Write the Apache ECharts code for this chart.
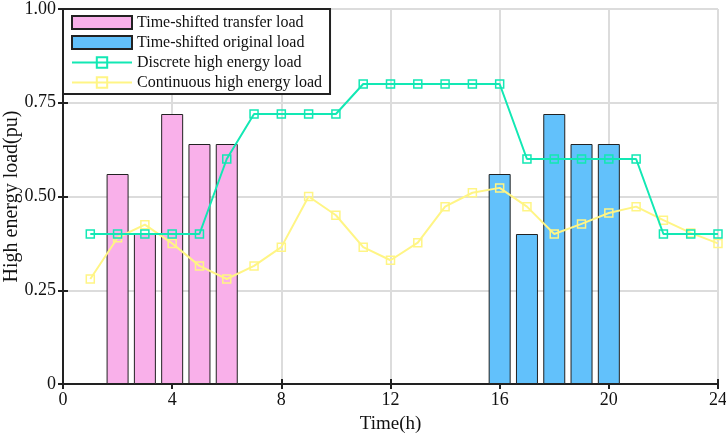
<!DOCTYPE html>
<html>
<head>
<meta charset="utf-8">
<script src="https://cdn.jsdelivr.net/npm/echarts@6/dist/echarts.min.js"></script>
<style>
  html, body { margin: 0; padding: 0; background: #fff; }
  #main { width: 726px; height: 436px; }
</style>
</head>
<body>
<div id="main"></div>
<script>
// hours 1..24
const hours = [1, 2, 3, 4, 5, 6, 7, 8, 9, 10, 11, 12, 13, 14, 15, 16, 17, 18, 19, 20, 21, 22, 23, 24];
// bars
const transferHours = [2, 3, 4, 5, 6];
const transferLoad = [0.56, 0.40, 0.72, 0.64, 0.64];
const originalHours = [16, 17, 18, 19, 20];
const originalLoad = [0.56, 0.40, 0.72, 0.64, 0.64];
// lines
const discreteLoad = [0.40, 0.40, 0.40, 0.40, 0.40, 0.60, 0.72, 0.72, 0.72, 0.72, 0.80, 0.80,
  0.80, 0.80, 0.80, 0.80, 0.60, 0.60, 0.60, 0.60, 0.60, 0.40, 0.40, 0.40];
const continuousLoad = [0.28, 0.39, 0.425, 0.375, 0.315, 0.28, 0.315, 0.365, 0.50, 0.45, 0.365, 0.33,
  0.377, 0.473, 0.51, 0.523, 0.473, 0.40, 0.427, 0.456, 0.473, 0.437, 0.403, 0.375];
// ticks
const xTickLabels = ['0', '4', '8', '12', '16', '20', '24'];
const yTickLabels = ['0', '0.25', '0.50', '0.75', '1.00'];

const font = 'Liberation Serif';
const pair = (xs, ys) => xs.map((x, i) => [x, ys[i]]);

const chart = echarts.init(document.getElementById('main'));

const boxAxis = {
  axisLine: { show: true, lineStyle: { color: '#222', width: 2 } },
  axisTick: { show: true, inside: true, length: 5, lineStyle: { color: '#222', width: 2 } },
};

chart.setOption({
  animation: false,
  grid: { left: 63, right: 8, top: 9, bottom: 52, outerBoundsMode: 'none', containLabel: false },
  legend: {
    orient: 'vertical',
    left: 63,
    top: 9,
    padding: [5, 8, 3, 8],
    itemWidth: 60,
    itemHeight: 13,
    itemGap: 3,
    borderColor: '#222',
    borderWidth: 2,
    backgroundColor: '#fff',
    textStyle: { fontFamily: font, fontSize: 16, color: '#111', lineHeight: 17 },
    data: [
      { name: 'Time-shifted transfer load', icon: 'rect' },
      { name: 'Time-shifted original load', icon: 'rect' },
      { name: 'Discrete high energy load' },
      { name: 'Continuous high energy load' },
    ],
  },
  xAxis: [
    Object.assign({
      type: 'value', min: 0, max: 24, interval: 4,
      name: 'Time(h)', nameLocation: 'middle', nameGap: 31, nameMoveOverlap: false,
      nameTextStyle: { fontFamily: font, fontSize: 19, color: '#111' },
      axisLabel: {
        fontFamily: font, fontSize: 18, color: '#111', margin: 7,
        formatter: (v, i) => xTickLabels[i],
      },
      splitLine: { show: true, lineStyle: { color: '#dcdcdc', width: 2 } },
    }, boxAxis),
    Object.assign({
      type: 'value', min: 0, max: 24, interval: 4, position: 'top',
      axisLabel: { show: false }, splitLine: { show: false },
    }, boxAxis),
  ],
  yAxis: [
    Object.assign({
      type: 'value', min: 0, max: 1, interval: 0.25,
      name: 'High energy load(pu)', nameLocation: 'middle', nameGap: 41, nameMoveOverlap: false,
      nameTextStyle: { fontFamily: font, fontSize: 20, color: '#111' },
      axisLabel: {
        fontFamily: font, fontSize: 18, color: '#111', margin: 7,
        formatter: (v, i) => yTickLabels[i],
      },
      splitLine: { show: true, lineStyle: { color: '#dcdcdc', width: 2 } },
    }, boxAxis),
    Object.assign({
      type: 'value', min: 0, max: 1, interval: 0.25, position: 'right',
      axisLabel: { show: false }, splitLine: { show: false },
    }, boxAxis),
  ],
  series: [
    {
      name: 'Time-shifted transfer load',
      type: 'bar',
      barWidth: 22,
      barGap: '-100%',
      data: pair(transferHours, transferLoad),
      itemStyle: { color: '#f9b0ea', borderColor: '#222', borderWidth: 1 },
      z: 1,
    },
    {
      name: 'Time-shifted original load',
      type: 'bar',
      barWidth: 22,
      barGap: '-100%',
      data: pair(originalHours, originalLoad),
      itemStyle: { color: '#62c1fb', borderColor: '#222', borderWidth: 1 },
      z: 1,
    },
    {
      name: 'Discrete high energy load',
      type: 'line',
      data: pair(hours, discreteLoad),
      symbol: 'rect',
      symbolSize: 8,
      lineStyle: { color: '#12e8b4', width: 2 },
      itemStyle: { color: 'rgba(255,255,255,0)', borderColor: '#12e8b4', borderWidth: 1.5 },
      z: 3,
    },
    {
      name: 'Continuous high energy load',
      type: 'line',
      data: pair(hours, continuousLoad),
      symbol: 'rect',
      symbolSize: 8,
      lineStyle: { color: '#fff585', width: 2 },
      itemStyle: { color: 'rgba(255,255,255,0)', borderColor: '#fff585', borderWidth: 1.5 },
      z: 2,
    },
  ],
});
</script>
</body>
</html>
